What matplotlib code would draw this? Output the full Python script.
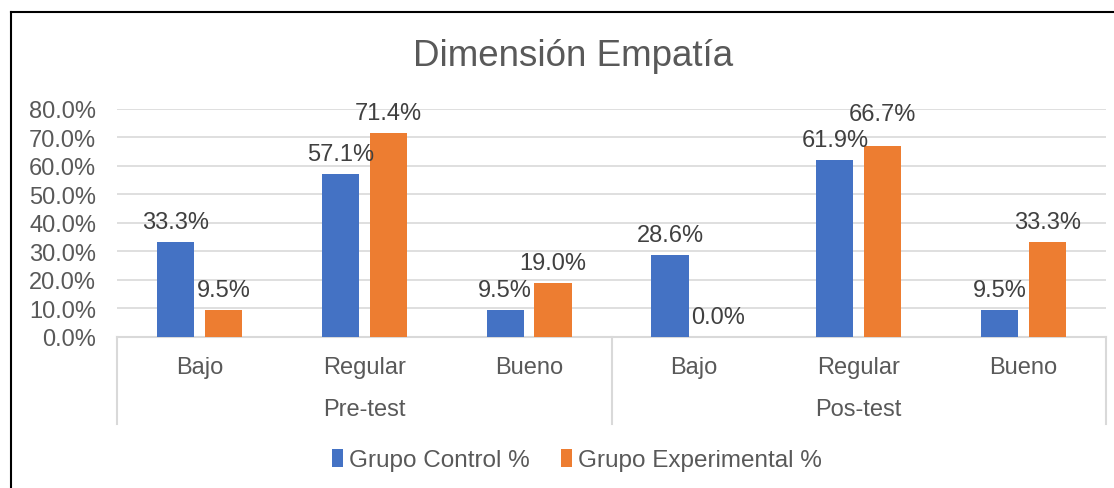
import matplotlib
matplotlib.use("Agg")
import matplotlib.pyplot as plt
from matplotlib.lines import Line2D
from matplotlib.patches import Patch

plt.rcParams['font.family'] = ['Liberation Sans', 'DejaVu Sans']

title = "Dimensión Empatía"
levels = ["Bajo", "Regular", "Bueno", "Bajo", "Regular", "Bueno"]
groups = ["Pre-test", "Pos-test"]
series_names = ["Grupo Control %", "Grupo Experimental %"]
control = [33.3, 57.1, 9.5, 28.6, 61.9, 9.5]
experimental = [9.5, 71.4, 19.0, 0.0, 66.7, 33.3]
yticks = [0, 10, 20, 30, 40, 50, 60, 70, 80]

BLUE = "#4472C4"
ORANGE = "#ED7D31"
GRID = "#D9D9D9"
TXT = "#595959"
LBL = "#404040"

W, H = 1114, 489
fig = plt.figure(figsize=(W / 100, H / 100), dpi=100)
fig.patch.set_facecolor("white")

left, right, top, bottom = 117, 1106, 109.5, 338
ax = fig.add_axes([left / W, (H - bottom) / H, (right - left) / W, (bottom - top) / H])

n = len(levels)
xs = list(range(n))
bw = 0.225
off = 0.145
bars_c = ax.bar([x - off for x in xs], control, width=bw, color=BLUE, zorder=3)
bars_e = ax.bar([x + off for x in xs], experimental, width=bw, color=ORANGE, zorder=3)

base_off = 14.5  # points above bar top (label centre)
for si, (bars, vals) in enumerate(((bars_c, control), (bars_e, experimental))):
    for i, (b, v) in enumerate(zip(bars, vals)):
        dy = base_off
        if si == 1 and i == 4:
            dy = base_off + 9  # lifted to avoid overlap, as in the reference
        ax.annotate(f"{v:.1f}%", (b.get_x() + b.get_width() / 2, v),
                    xytext=(0, dy), textcoords="offset points",
                    ha="center", va="center", fontsize=17, color=LBL,
                    annotation_clip=False, zorder=4)

ax.set_xlim(-0.5, n - 0.5)
ax.set_ylim(0, 80)
ax.set_yticks(yticks)
ax.set_yticklabels([f"{t:.1f}%" for t in yticks], fontsize=17, color=TXT)
ax.tick_params(axis="y", length=0, pad=15)
ax.set_xticks([])
ax.yaxis.grid(True, color=GRID, linewidth=1.2, zorder=0)
ax.set_axisbelow(True)
for s in ["top", "right", "left"]:
    ax.spines[s].set_visible(False)
ax.spines["bottom"].set_color(GRID)
ax.spines["bottom"].set_linewidth(1.5)

tr = ax.get_xaxis_transform()
axh = bottom - top
for x, lab in zip(xs, levels):
    ax.text(x, -(368 - bottom) / axh, lab, transform=tr, ha="center", va="center",
            fontsize=17, color=TXT)
gsize = n // len(groups)
for i, g in enumerate(groups):
    cx = i * gsize + (gsize - 1) / 2
    ax.text(cx, -(410 - bottom) / axh, g, transform=tr, ha="center", va="center",
            fontsize=17, color=TXT)
for i in range(len(groups) + 1):
    xv = i * gsize - 0.5
    ax.plot([xv, xv], [0, -(425 - bottom) / axh], transform=tr, color=GRID,
            linewidth=1.5, clip_on=False)

fig.text(573 / W, 1 - 57 / H, title, ha="center", va="center", fontsize=26.5, color=TXT)

handles = [Patch(facecolor=BLUE), Patch(facecolor=ORANGE)]
fig.legend(handles, series_names, loc="center", bbox_to_anchor=(577 / W, 1 - 461 / H),
           ncol=2, frameon=False, fontsize=17.5, handlelength=0.45, handleheight=0.8,
           handletextpad=0.25, columnspacing=1.3, labelcolor=TXT)

fig.add_artist(Line2D([10.5 / W, 10.5 / W], [0, 1 - 12.5 / H], color="black", linewidth=1.5))
fig.add_artist(Line2D([10.5 / W, 1], [1 - 12.5 / H, 1 - 12.5 / H], color="black", linewidth=1.5))

fig.savefig("out.png", dpi=100, facecolor="white")
